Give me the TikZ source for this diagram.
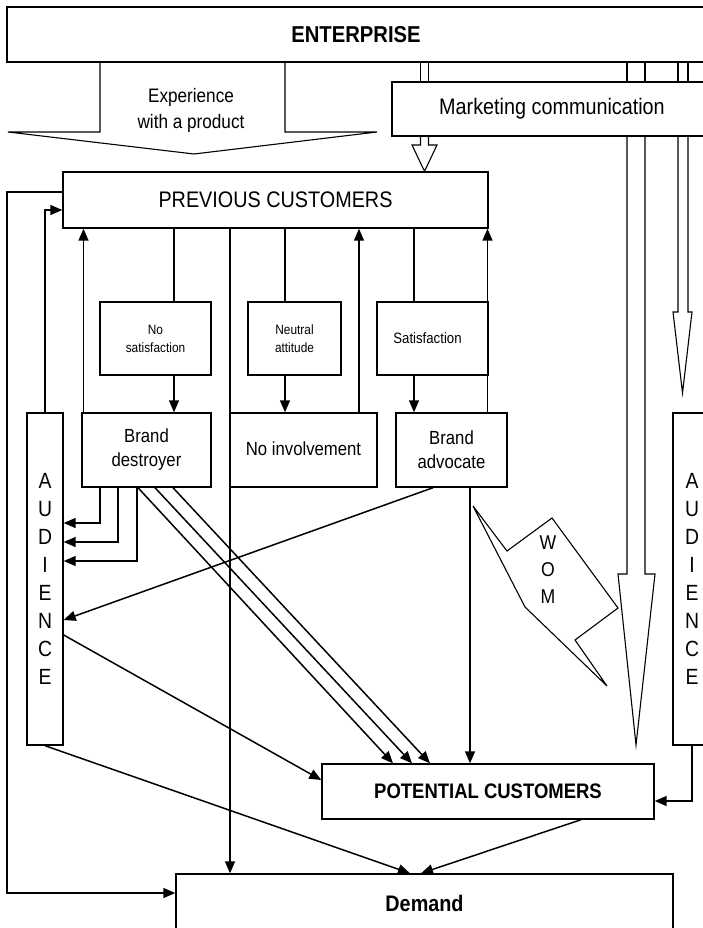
\documentclass[tikz,border=0pt]{standalone}
\usepackage{fontspec}
\setmainfont{Liberation Sans}[FakeStretch=0.88]
\usetikzlibrary{arrows.meta,calc}
\newcommand{\fsz}[2]{\fontsize{#1}{#2}\selectfont}
\begin{document}
\begin{tikzpicture}[x=1pt,y=-1pt,
  box/.style={draw, line width=1.4pt, inner sep=0pt, align=center, rectangle},
  ln/.style={line width=1.5pt},
  arr/.style={line width=1.5pt, -{Triangle[length=12pt,width=10pt]}},
  hollow/.style={line width=1.1pt, line join=miter},
  lbl/.style={inner sep=0pt, align=center}]
\useasboundingbox (0,0) rectangle (703,928);
\clip (0,0) rectangle (703,928);

% boxes
\node[box, minimum width=698pt, minimum height=55pt, font=\fsz{23}{28}\bfseries] (ent) at (356,34.5) {ENTERPRISE};
\node[box, minimum width=320pt, minimum height=54pt, font=\fsz{22.5}{27}] (mkt) at (552,109) {\raisebox{5pt}{Marketing communication}};
\node[box, minimum width=425pt, minimum height=56pt, font=\fsz{22.5}{27}] (prev) at (275.5,200) {PREVIOUS CUSTOMERS};
\node[box, minimum width=111pt, minimum height=73pt, font=\fsz{13.5}{18}] (nosat) at (155.5,338.5) {No\\satisfaction};
\node[box, minimum width=93pt, minimum height=73pt, font=\fsz{13.5}{18}] (neut) at (294.5,338.5) {Neutral\\attitude};
\node[box, minimum width=111pt, minimum height=73pt, font=\fsz{15}{18}] (sat) at (432.5,338.5) {\hspace*{-10pt}Satisfaction};
\node[box, minimum width=129pt, minimum height=74pt, font=\fsz{19}{24}] (bd) at (146.5,450) {Brand\\destroyer};
\node[box, minimum width=147pt, minimum height=74pt, font=\fsz{19}{24}] (noinv) at (303.5,450) {\raisebox{3pt}{No involvement}};
\node[box, minimum width=111pt, minimum height=74pt, font=\fsz{19}{24}] (ba) at (451.5,450) {Brand\\advocate};
\node[box, minimum width=36pt, minimum height=332pt, font=\fsz{22}{28}] (audL) at (45,579) {A\\U\\D\\I\\E\\N\\C\\E};
\node[box, minimum width=38pt, minimum height=332pt, font=\fsz{22}{28}] (audR) at (692,579) {A\\U\\D\\I\\E\\N\\C\\E};
\node[box, minimum width=332pt, minimum height=55pt, font=\fsz{21}{26}\bfseries] (pot) at (488,791.5) {POTENTIAL CUSTOMERS};
\node[box, minimum width=497pt, minimum height=60pt, font=\fsz{22.5}{27}\bfseries] (dem) at (424.5,904) {\raisebox{1pt}{Demand}};

% experience arrow
\draw[hollow] (100,0 |- ent.south) -- (100,132) -- (8,132) -- (194,154) -- (377,132) -- (285,132) -- (285,0 |- ent.south);
\node[lbl, font=\fsz{19.5}{26}] (exp) at (191,110) {Experience\\with a product};

% small hollow arrow enterprise -> previous customers
\draw[hollow] (420.5,0 |- ent.south) -- (420.5,0 |- mkt.north);
\draw[hollow] (428.5,0 |- ent.south) -- (428.5,0 |- mkt.north);
\draw[hollow] (420.5,0 |- mkt.south) -- (420.5,145) -- (412,145) -- (424.5,0 |- prev.north) -- (437,145) -- (428.5,145) -- (428.5,0 |- mkt.south);

% long hollow arrow to potential customers
\draw[hollow] (627,0 |- ent.south) -- (627,0 |- mkt.north);
\draw[hollow] (645,0 |- ent.south) -- (645,0 |- mkt.north);
\draw[hollow] (627,0 |- mkt.south) -- (627,574) -- (618,574) -- (636,745) -- (655,574) -- (645,574) -- (645,0 |- mkt.south);

% hollow arrow to right audience
\draw[hollow] (678,0 |- ent.south) -- (678,0 |- mkt.north);
\draw[hollow] (688,0 |- ent.south) -- (688,0 |- mkt.north);
\draw[hollow] (678,0 |- mkt.south) -- (678,312) -- (673,312) -- (682.5,393) -- (692,312) -- (688,312) -- (688,0 |- mkt.south);

% WOM callout
\draw[hollow] (473,506) -- (507,551) -- (552,518) -- (618,608) -- (575,640) -- (607,686) -- (525,607) -- cycle;
\node[lbl, font=\fsz{20}{27}] (wom) at (548,570) {W\\O\\M};

% connectors
\draw[arr] (prev.west |- 0,192) -| (7,893) -- (dem.west |- 0,893);
\draw[arr] (audL.north) |- (prev.west |- 0,210);
\draw[arr] (83.5,0 |- bd.north) -- (83.5,0 |- prev.south);
\draw[ln] (174,0 |- prev.south) -- (174,0 |- nosat.north);
\draw[arr] (174,0 |- nosat.south) -- (174,0 |- bd.north);
\draw[ln] (285,0 |- prev.south) -- (285,0 |- neut.north);
\draw[arr] (285,0 |- neut.south) -- (285,0 |- noinv.north);
\draw[arr] (230,0 |- prev.south) -- (230,0 |- dem.north);
\draw[arr] (359,0 |- noinv.north) -- (359,0 |- prev.south);
\draw[ln] (414,0 |- prev.south) -- (414,0 |- sat.north);
\draw[arr] (414,0 |- sat.south) -- (414,0 |- ba.north);
\draw[arr] (487.5,0 |- ba.north) -- (487.5,0 |- prev.south);

\draw[arr] (100,0 |- bd.south) |- (audL.east |- 0,523);
\draw[arr] (118,0 |- bd.south) |- (audL.east |- 0,542);
\draw[arr] (137,0 |- bd.south) |- (audL.east |- 0,561);
\draw[arr] (138,0 |- bd.south) -- (393,0 |- pot.north);
\draw[arr] (155,0 |- bd.south) -- (412,0 |- pot.north);
\draw[arr] (173,0 |- bd.south) -- (430,0 |- pot.north);

\draw[arr] (433,0 |- ba.south) -- (audL.east |- 0,620);
\draw[arr] (470,0 |- ba.south) -- (470,0 |- pot.north);
\draw[arr] (audL.east |- 0,635) -- (pot.west |- 0,780);
\draw[arr] (audL.south) -- (410,0 |- dem.north);
\draw[arr] (581,0 |- pot.south) -- (421,0 |- dem.north);
\draw[arr] (audR.south) |- (pot.east |- 0,801);
\end{tikzpicture}
\end{document}
